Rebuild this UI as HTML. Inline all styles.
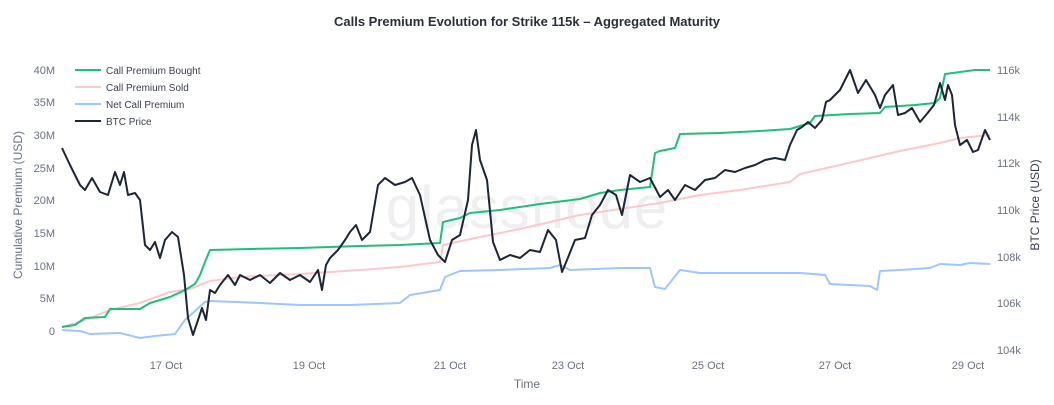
<!DOCTYPE html>
<html><head><meta charset="utf-8"><style>
html,body{margin:0;padding:0;background:#fff;}
svg{display:block;font-family:"Liberation Sans",sans-serif;}
</style></head><body>
<svg width="1054" height="405" viewBox="0 0 1054 405">
<text x="527" y="26" text-anchor="middle" font-size="13" font-weight="bold" fill="#2a2f3c">Calls Premium Evolution for Strike 115k – Aggregated Maturity</text>
<text x="527" y="228" text-anchor="middle" font-size="60" fill="#efeff1" letter-spacing="1">glassnode</text>
<g font-size="11" fill="#6b7186" text-anchor="end">
<text x="55" y="335">0</text><text x="55" y="302">5M</text><text x="55" y="270">10M</text><text x="55" y="237">15M</text><text x="55" y="204">20M</text><text x="55" y="172">25M</text><text x="55" y="139">30M</text><text x="55" y="106">35M</text><text x="55" y="74">40M</text>
</g>
<g font-size="11" fill="#6b7186">
<text x="997" y="74">116k</text><text x="997" y="121">114k</text><text x="997" y="167">112k</text><text x="997" y="214">110k</text><text x="997" y="261">108k</text><text x="997" y="307">106k</text><text x="997" y="354">104k</text>
</g>
<g font-size="11" fill="#6b7186" text-anchor="middle">
<text x="166" y="369">17 Oct</text><text x="309" y="369">19 Oct</text><text x="450" y="369">21 Oct</text><text x="568" y="369">23 Oct</text><text x="708" y="369">25 Oct</text><text x="835" y="369">27 Oct</text><text x="968" y="369">29 Oct</text>
</g>
<text x="527" y="388" text-anchor="middle" font-size="12" fill="#6b7186">Time</text>
<text transform="translate(22,205) rotate(-90)" text-anchor="middle" font-size="12" fill="#6b7186">Cumulative Premium (USD)</text>
<text transform="translate(1039,205) rotate(-90)" text-anchor="middle" font-size="12" fill="#3a3f4c">BTC Price (USD)</text>
<g fill="none" stroke-width="2" stroke-linejoin="round">
<polyline stroke="#ffc7c7" points="62,327 80,322 110,310 140,303 170,292 190,289 210,281 240,277 300,274 360,270 400,267 440,262 443,245 480,237 520,229 550,222 580,215 620,209 660,203 700,195 740,190 790,182 800,174 840,165 870,158 900,151 940,143 960,138 990,135"/>
<polyline stroke="#9cc6ff" points="62,330 80,331 90,334 120,333 140,338 155,336 175,334 185,320 205,302 210,301 260,303 300,305 350,305 400,303 410,295 440,290 445,277 460,271 500,270 550,268 560,265 570,270 620,268 650,268 655,287 665,289 680,270 700,273 760,273 800,273 825,275 830,284 870,286 877,290 880,271 900,270 930,268 940,264 960,265 970,263 990,264"/>
<polyline stroke="#1fbf7a" points="62,327 75,325 85,318 105,317 110,309 140,309 150,303 170,297 185,290 195,284 200,275 205,262 210,250 250,249 300,248 360,246 400,245 440,243 443,222 460,218 470,213 500,210 540,204 580,199 600,193 620,190 650,187 655,153 660,151 675,148 680,134 720,133 760,131 790,129 800,126 810,123 815,116 850,114 880,113 885,107 915,105 935,103 940,98 945,74 960,72 975,70 990,70"/>
<polyline stroke="#1e2535" points="62,148 70,165 80,185 85,190 92,178 100,192 108,195 115,172 120,185 124,172 128,195 135,193 140,200 145,245 150,250 155,242 160,258 165,240 172,232 178,237 184,275 188,318 193,335 198,320 202,308 206,320 210,290 215,293 220,285 228,275 235,285 240,275 250,280 260,275 270,283 280,273 290,280 300,275 310,282 318,270 322,290 326,265 330,258 338,250 345,240 350,232 356,225 362,240 370,232 378,185 385,178 395,185 405,182 412,178 420,195 430,240 438,255 445,262 452,240 460,235 468,200 472,145 476,130 480,160 487,180 493,242 500,260 510,255 520,258 530,250 540,252 548,230 556,240 562,272 567,260 575,240 585,238 592,215 600,205 608,190 616,195 622,215 630,175 640,182 650,178 660,197 668,190 675,200 685,185 695,190 705,180 715,178 725,170 735,172 745,168 755,165 765,160 775,158 785,160 790,145 797,130 802,127 808,122 815,128 822,120 826,102 830,100 840,90 850,70 858,93 866,80 875,95 880,108 885,95 893,85 898,115 905,113 912,108 920,122 926,115 934,105 940,83 945,100 948,85 952,95 955,125 960,145 967,140 973,152 978,150 985,130 990,140"/>
</g>
<g font-size="10" fill="#3a3f4c">
<line x1="75" y1="70" x2="101" y2="70" stroke="#1fbf7a" stroke-width="2"/><text x="106" y="74">Call Premium Bought</text>
<line x1="75" y1="87" x2="101" y2="87" stroke="#ffc7c7" stroke-width="2"/><text x="106" y="91">Call Premium Sold</text>
<line x1="75" y1="104" x2="101" y2="104" stroke="#9cc6ff" stroke-width="2"/><text x="106" y="108">Net Call Premium</text>
<line x1="75" y1="121" x2="101" y2="121" stroke="#1e2535" stroke-width="2"/><text x="106" y="125">BTC Price</text>
</g>
</svg>
</body></html>
